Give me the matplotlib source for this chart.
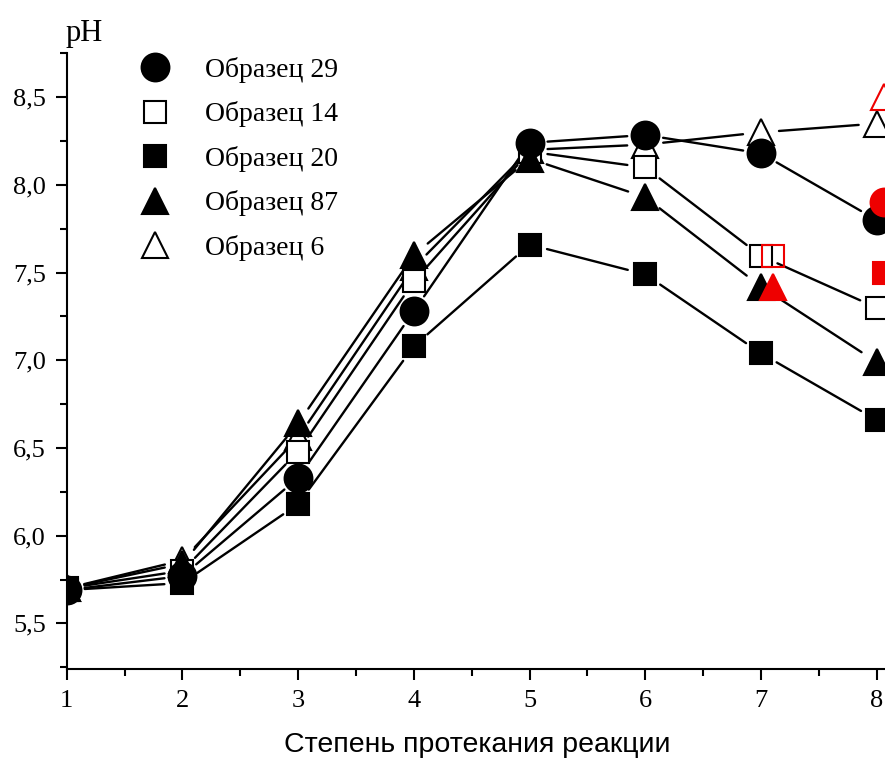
import matplotlib
matplotlib.use("Agg")
import matplotlib.pyplot as plt
from matplotlib.lines import Line2D
from matplotlib.ticker import MultipleLocator, FuncFormatter

# степень протекания реакции
x = [1, 2, 3, 4, 5, 6, 7, 8]

s29 = [5.69, 5.77, 6.33, 7.28, 8.24, 8.285, 8.18, 7.80]
s14 = [5.70, 5.80, 6.48, 7.45, 8.19, 8.10, 7.595, 7.30]
s20 = [5.69, 5.73, 6.18, 7.08, 7.66, 7.49, 7.04, 6.66]
s87 = [5.70, 5.84, 6.64, 7.60, 8.15, 7.93, 7.42, 6.99]
s6 = [5.70, 5.86, 6.56, 7.53, 8.20, 8.23, 8.30, 8.35]

labels = ["Образец 29", "Образец 14", "Образец 20", "Образец 87", "Образец 6"]

# red extra points (shifted a bit to the right)
red_x = [7.1, 7.1, 8.06, 8.06, 8.06]
red_y = [7.595, 7.42, 8.50, 7.90, 7.50]
red_kind = ["open_s", "tri", "open_tri", "circ", "sq"]

serif = "Liberation Serif"
styles = {
    "circ": dict(marker="o", ms=20, filled=True),
    "open_s": dict(marker="s", ms=16, filled=False),
    "sq": dict(marker="s", ms=16, filled=True),
    "tri": dict(marker="^", ms=19, filled=True),
    "open_tri": dict(marker="^", ms=19, filled=False),
}
series = [(s29, "circ"), (s14, "open_s"), (s20, "sq"), (s87, "tri"), (s6, "open_tri")]
# drawing order of the markers (last on top)
draw_order = [(s6, "open_tri"), (s14, "open_s"), (s29, "circ"), (s87, "tri"), (s20, "sq")]

fig = plt.figure(figsize=(8.85, 7.58), dpi=100)
ax = fig.add_axes([66.7 / 885, 89 / 758, (885 - 66.7) / 885, (669 - 52.7) / 758])
ax.set_xlim(1, 8.072)
ax.set_ylim(5.24, 8.754)


def mstyle(kind, color="black"):
    st = styles[kind]
    return dict(marker=st["marker"], markersize=st["ms"], linestyle="none",
                markerfacecolor=color if st["filled"] else "white",
                markeredgecolor=color, markeredgewidth=1.5)


# lines with gaps near the markers (Origin style)
for yy, kind in series:
    for i in range(len(x) - 1):
        ax.annotate("", xy=(x[i + 1], yy[i + 1]), xytext=(x[i], yy[i]),
                    arrowprops=dict(arrowstyle="-", lw=1.7, color="black",
                                    shrinkA=13, shrinkB=13), zorder=2)

for k, (yy, kind) in enumerate(draw_order):
    ax.plot(x, yy, zorder=4 + 0.1 * k, **mstyle(kind))

for rx, ry, kind in zip(red_x, red_y, red_kind):
    st = mstyle(kind, "#ee0000")
    if not styles[kind]["filled"]:
        st["markerfacecolor"] = "none"
    ax.plot([rx], [ry], zorder=5, clip_on=False, **st)

# axes look
for side in ["top", "right"]:
    ax.spines[side].set_visible(False)
for side in ["left", "bottom"]:
    ax.spines[side].set_linewidth(1.5)
    ax.spines[side].set_zorder(6)

ax.xaxis.set_major_locator(MultipleLocator(1))
ax.xaxis.set_minor_locator(MultipleLocator(0.5))
ax.yaxis.set_major_locator(MultipleLocator(0.5))
ax.yaxis.set_minor_locator(MultipleLocator(0.25))
ax.tick_params(which="major", length=8, width=1.5, direction="out")
ax.tick_params(which="minor", length=5, width=1.5, direction="out")
ax.tick_params(axis="y", which="major", pad=7)
ax.tick_params(axis="x", which="major", pad=7)
ax.yaxis.set_major_formatter(FuncFormatter(lambda v, p: f"{v:.1f}".replace(".", ",")))
ax.xaxis.set_major_formatter(FuncFormatter(lambda v, p: f"{v:.0f}"))
for lab in ax.get_xticklabels() + ax.get_yticklabels():
    lab.set_fontfamily(serif)
    lab.set_fontsize(19)

ax.set_xlabel("Степень протекания реакции", fontfamily="Liberation Sans",
              fontsize=20.5, va="center")
ax.xaxis.set_label_coords((477 - 66.7) / 818.3, (669 - 745) / 616.3)
fig.text(84 / 885, 1 - 33 / 758, "pH", fontfamily=serif, fontsize=22,
         ha="center", va="center")

handles = [Line2D([], [], **mstyle(kind)) for _, kind in series]
ax.legend(handles, labels, loc="upper left", bbox_to_anchor=(141 / 885, 1 - 57 / 758),
          bbox_transform=fig.transFigure, frameon=False, handlelength=1.0,
          handletextpad=1.31, labelspacing=0.665, borderpad=0, borderaxespad=0,
          prop=dict(family=serif, size=20))

fig.savefig("out.png", dpi=100)
